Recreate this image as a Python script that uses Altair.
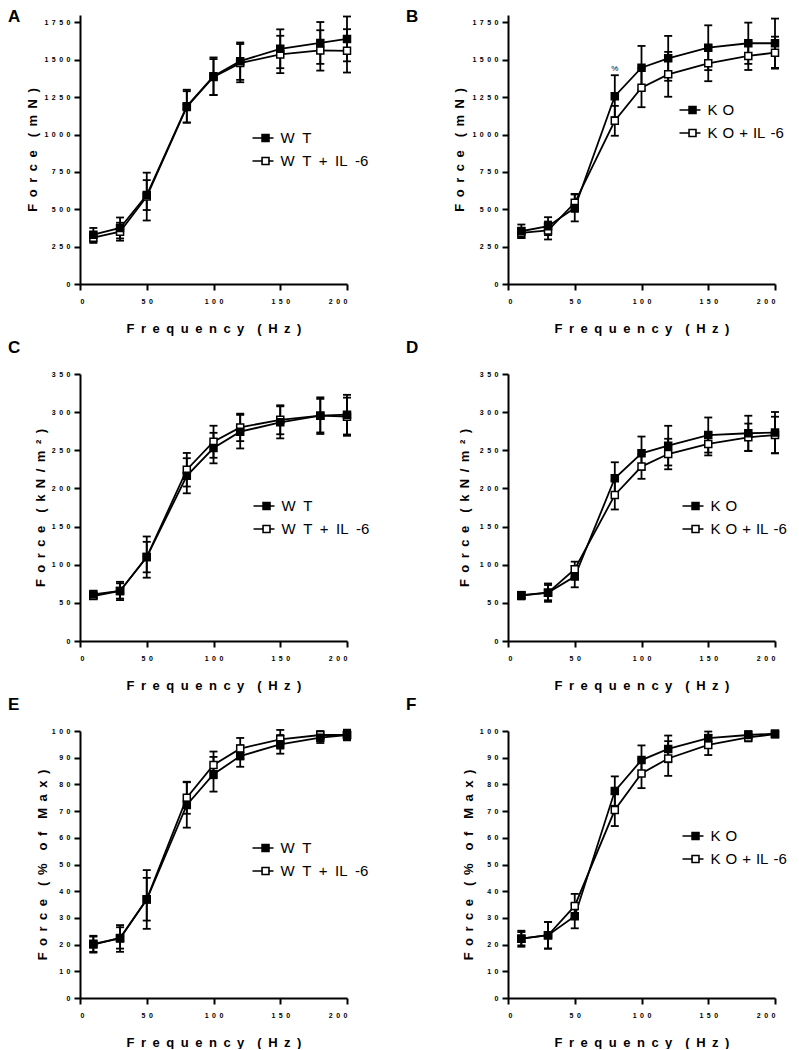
import altair as alt
import pandas as pd

# ---------------- data ----------------
freq = [10, 30, 50, 80, 100, 120, 150, 180, 200]

# A: absolute force (mN), WT vs WT + IL-6
a_wt_mean = [330, 375, 595, 1190, 1390, 1491, 1574, 1613, 1640]
a_wt_sem = [45, 70, 100, 110, 126, 125, 130, 140, 150]
a_il_mean = [310, 350, 585, 1185, 1385, 1478, 1536, 1563, 1560]
a_il_sem = [35, 60, 160, 105, 120, 128, 125, 135, 145]

# B: absolute force (mN), KO vs KO + IL-6
b_ko_mean = [353, 387, 509, 1257, 1447, 1510, 1581, 1611, 1611]
b_ko_sem = [45, 60, 90, 140, 146, 150, 150, 138, 165]
b_il_mean = [342, 358, 543, 1092, 1313, 1403, 1477, 1526, 1548]
b_il_sem = [35, 60, 60, 100, 130, 150, 120, 94, 107]

# C: specific force (kN/m2), WT
c_wt_mean = [61, 65.6, 110, 216.6, 252.9, 274.4, 286.6, 295.4, 296.7]
c_wt_sem = [5, 12, 27, 23, 20, 22, 21, 24, 26]
c_il_mean = [59, 65.6, 110, 224.5, 261.2, 280, 290, 295.4, 294]
c_il_sem = [4, 10, 20, 22, 21, 18, 19, 22, 25]

# D: specific force (kN/m2), KO
d_ko_mean = [59.5, 63.4, 84.4, 213.3, 246, 256.1, 270, 272.3, 273.2]
d_ko_sem = [5, 12, 14, 21, 22, 26, 23, 23, 27]
d_il_mean = [60, 63.4, 94, 191.4, 228.6, 245.1, 258.3, 267, 270]
d_il_sem = [4, 10, 10, 19, 16, 20, 15, 18, 24]

# E: % of max, WT
e_wt_mean = [20.3, 22.3, 36.9, 72.3, 83.8, 90.6, 95, 97.5, 98.5]
e_wt_sem = [3, 5, 11, 8.5, 6.5, 4, 3.5, 2, 2]
e_il_mean = [20, 22.5, 37, 75, 87.3, 93.4, 96.9, 98.5, 98.5]
e_il_sem = [3, 4, 8, 6, 5, 4, 3.5, 1.5, 1.5]

# F: % of max, KO
f_ko_mean = [22.2, 23.5, 30.6, 77.5, 89.1, 93.3, 97.3, 98.5, 99.0]
f_ko_sem = [3, 5, 4.5, 5.5, 5.5, 5, 2.5, 1.5, 1.2]
f_il_mean = [22.2, 23.5, 34.5, 70.4, 84.1, 89.7, 94.8, 97.6, 98.8]
f_il_sem = [2.5, 5, 4.5, 6, 5.5, 6.5, 3.8, 1.5, 1.2]

x_ticks = [0, 50, 100, 150, 200]
y_ticks_mn = [0, 250, 500, 750, 1000, 1250, 1500, 1750]
y_ticks_kn = [0, 50, 100, 150, 200, 250, 300, 350]
y_ticks_pct = [0, 10, 20, 30, 40, 50, 60, 70, 80, 90, 100]

# significance mark in panel B
b_annot_freq = [80]
b_annot_y = [1440]
b_annot_text = ["%"]

EN = "\u2002"
FONT = "Liberation Sans"


def spaced(text, sep=EN):
    words = text.split(" ")
    return (sep * 2).join(sep.join(list(w)) for w in words)


X_TITLE = spaced("Frequency (Hz)")
WT_LAB = ("W" + EN + "T", "W" + EN + "T" + EN + "+" + EN + "IL" + EN + "-6")
KO_LAB = ("K\u2004O", "K\u2004O\u2004+\u2004IL\u2004-6")

LABEL_EXPR = "replace(datum.label, regexp('([0-9])(?=[0-9])', 'g'), '$1" + EN + "')"

LEG_PATH = ("M-1,0L-0.09,0M0.57,0L1,0"
            "M-0.09,-0.33L0.57,-0.33L0.57,0.33L-0.09,0.33Z")

panels = [
    dict(letter="A", lab=WT_LAB, m1=a_wt_mean, e1=a_wt_sem, m2=a_il_mean, e2=a_il_sem,
         ydom=[0, 1800], yt=y_ticks_mn, ytitle=spaced("Force (mN)"), h=269,
         tx=-48, leg=(182, 122), ldx=-72, loff=-11),
    dict(letter="B", lab=KO_LAB, m1=b_ko_mean, e1=b_ko_sem, m2=b_il_mean, e2=b_il_sem,
         ydom=[0, 1800], yt=y_ticks_mn, ytitle=spaced("Force (mN)"), h=269,
         tx=-49, leg=(181, 94), ldx=-102, loff=-11),
    dict(letter="C", lab=WT_LAB, m1=c_wt_mean, e1=c_wt_sem, m2=c_il_mean, e2=c_il_sem,
         ydom=[0, 350], yt=y_ticks_kn, ytitle=spaced("Force (kN/m²)"), h=267,
         tx=-40, leg=(183, 131), ldx=-72, loff=13),
    dict(letter="D", lab=KO_LAB, m1=d_ko_mean, e1=d_ko_sem, m2=d_il_mean, e2=d_il_sem,
         ydom=[0, 350], yt=y_ticks_kn, ytitle=spaced("Force (kN/m²)"), h=267,
         tx=-44, leg=(184, 131), ldx=-102, loff=13),
    dict(letter="E", lab=WT_LAB, m1=e_wt_mean, e1=e_wt_sem, m2=e_il_mean, e2=e_il_sem,
         ydom=[0, 100], yt=y_ticks_pct, ytitle=spaced("Force (% of Max)"), h=267,
         tx=-38, leg=(182, 116), ldx=-72, loff=13),
    dict(letter="F", lab=KO_LAB, m1=f_ko_mean, e1=f_ko_sem, m2=f_il_mean, e2=f_il_sem,
         ydom=[0, 100], yt=y_ticks_pct, ytitle=spaced("Force (% of Max)"), h=267,
         tx=-40, leg=(184, 104), ldx=-102, loff=13),
]

W = 267
LW = 1.8


def make_panel(p):
    s1, s2 = p["lab"]
    rows = []
    # open series first so the filled markers are drawn on top
    for s, m, e in ((s2, p["m2"], p["e2"]), (s1, p["m1"], p["e1"])):
        for f, mv, ev in zip(freq, m, e):
            rows.append(dict(freq=f, mean=mv, lo=mv - ev, hi=mv + ev, series=s))
    df = pd.DataFrame(rows)

    xscale = alt.Scale(domain=[0, 200], nice=False)
    xaxis = alt.Axis(values=x_ticks, format="d", labelExpr=LABEL_EXPR,
                     title=X_TITLE, titleY=44, titleBaseline="middle",
                     labelPadding=7, labelOverlap=False)
    yscale = alt.Scale(domain=p["ydom"], nice=False)
    yaxis = alt.Axis(values=p["yt"], format="d", labelExpr=LABEL_EXPR,
                     title=p["ytitle"], titleX=p["tx"], titleY=p["h"] / 2,
                     titleBaseline="middle", titleAlign="center",
                     labelPadding=4, labelOverlap=False)

    def X():
        return alt.X("freq:Q", scale=xscale, axis=xaxis)

    def Y(field):
        return alt.Y(field + ":Q", scale=yscale, axis=yaxis)

    base = alt.Chart(df)
    rules = base.mark_rule(color="black", strokeWidth=LW).encode(
        x=X(), y=Y("lo"), y2="hi:Q")
    cap_lo = base.mark_tick(orient="horizontal", size=8, thickness=LW,
                            color="black", opacity=1).encode(x=X(), y=Y("lo"))
    cap_hi = base.mark_tick(orient="horizontal", size=8, thickness=LW,
                            color="black", opacity=1).encode(x=X(), y=Y("hi"))
    lines = base.mark_line(color="black", strokeWidth=LW).encode(
        x=X(), y=Y("mean"), detail="series:N")
    pts = base.mark_point(shape="square", filled=True, size=49, stroke="black",
                          strokeWidth=1.5, opacity=1).encode(
        x=X(), y=Y("mean"),
        fill=alt.Fill("series:N",
                      scale=alt.Scale(domain=[s1, s2], range=["black", "white"]),
                      legend=alt.Legend(orient="none",
                                        legendX=p["leg"][0] - 10.5,
                                        legendY=p["leg"][1] - 10.5,
                                        title=None, symbolType=LEG_PATH,
                                        symbolSize=441, symbolStrokeColor="black",
                                        symbolStrokeWidth=1.6, symbolOpacity=1,
                                        labelFont=FONT, labelFontSize=15,
                                        labelFontWeight="normal",
                                        labelColor="black", labelOffset=6,
                                        rowPadding=3, padding=0)))
    layers = [lines, rules, cap_lo, cap_hi, pts]
    if p["letter"] == "B":
        adf = pd.DataFrame(dict(freq=b_annot_freq, y=b_annot_y, t=b_annot_text))
        ann = alt.Chart(adf).mark_text(font=FONT, fontSize=8, color="black",
                                       baseline="middle").encode(
            x=X(), y=Y("y"), text="t:N")
        layers.append(ann)
    ch = alt.layer(*layers).properties(
        width=W, height=p["h"],
        title=alt.TitleParams(p["letter"], anchor="start", frame="group",
                              dx=p["ldx"], offset=p["loff"], baseline="top",
                              font=FONT, fontSize=17, fontWeight="bold",
                              color="black"))
    return ch


charts = [make_panel(p) for p in panels]

chart = alt.concat(*charts, columns=2, spacing={"row": 90, "column": 161},
                   bounds="flush").resolve_scale(
    x="independent", y="independent", fill="independent"
).resolve_legend(fill="independent").properties(
    padding=0, background="white"
).configure_view(
    stroke=None
).configure_axis(
    grid=False, domainColor="black", domainWidth=2, tickColor="black", tickWidth=2,
    tickSize=6, labelFont=FONT, labelFontSize=7, labelFontWeight="bold",
    labelColor="black", titleFont=FONT, titleFontSize=13, titleFontWeight="bold",
    titleColor="black"
)

chart.save("out.html", embed_options={"renderer": "svg", "actions": False})
